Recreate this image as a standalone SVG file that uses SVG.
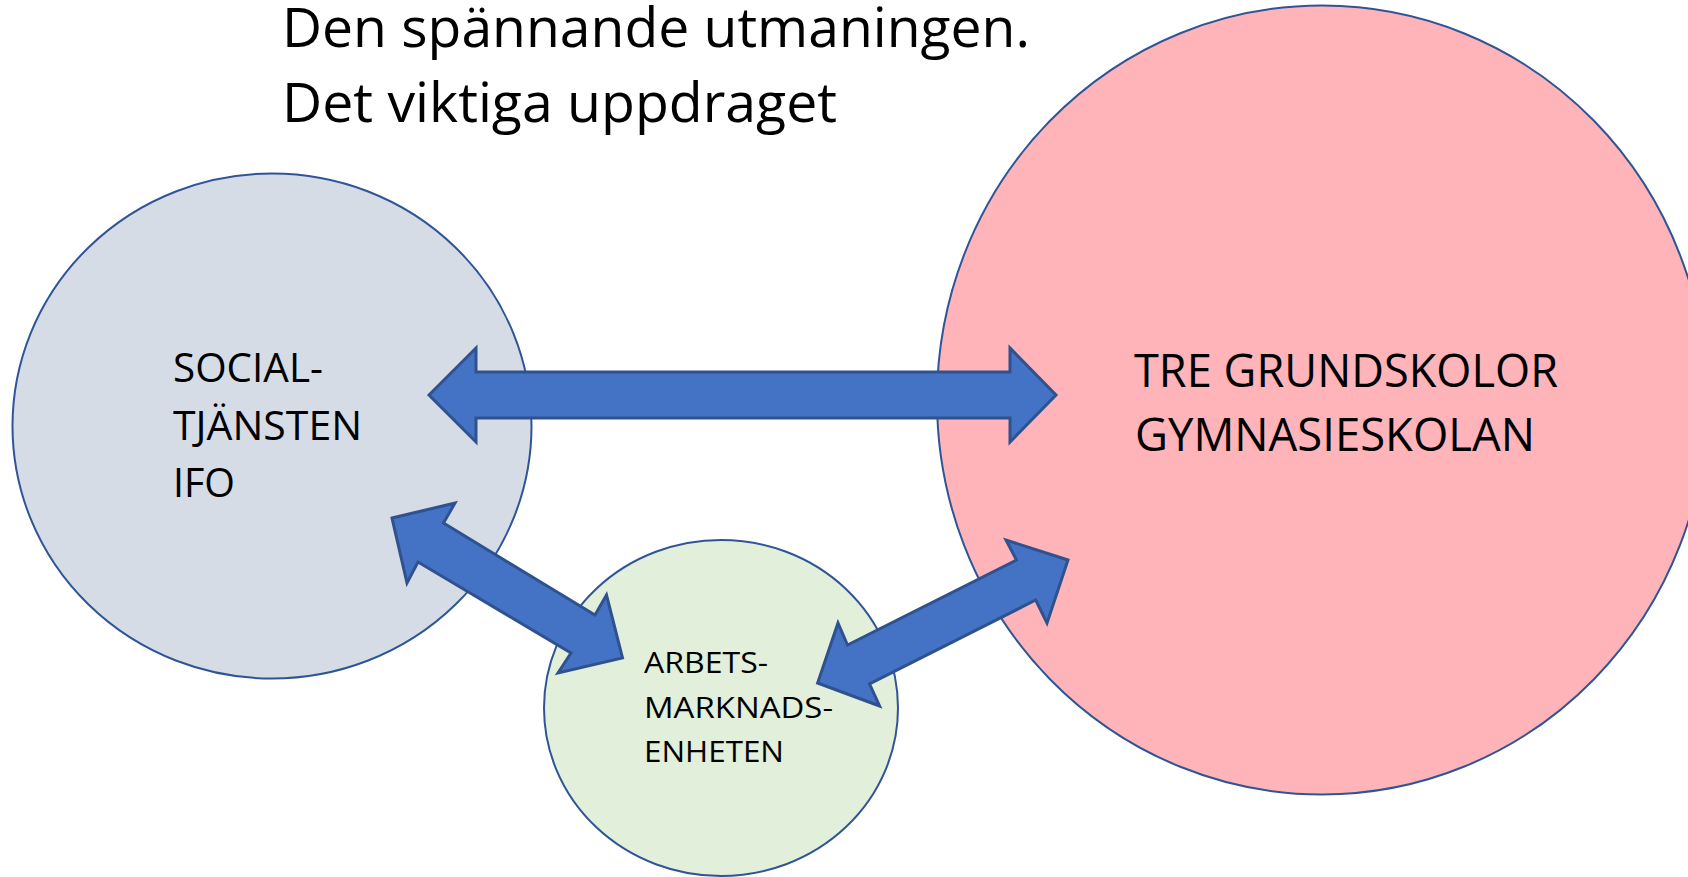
<svg xmlns="http://www.w3.org/2000/svg" width="1688" height="877" viewBox="0 0 1688 877">
<style>
.node{stroke:#2F5597;stroke-width:2}
.arrow{fill:#4472C4;stroke:#2F528F;stroke-width:3;stroke-linejoin:miter}
text{font-family:"Open Sans","Noto Sans",sans-serif;fill:#000}
.title{font-size:55px}
.big{font-size:46.5px}
.mid{font-size:39.5px}
.small{font-size:30px}
</style>
<rect width="1688" height="877" fill="#FFFFFF"/>
<g id="title">
<text class="title"><tspan x="282" y="47" textLength="748" lengthAdjust="spacingAndGlyphs">Den spännande utmaningen.</tspan><tspan x="282" y="122" textLength="555" lengthAdjust="spacingAndGlyphs">Det viktiga uppdraget</tspan></text>
</g>
<g id="socialtjansten">
<ellipse class="node" cx="272" cy="426" rx="259.5" ry="252.5" fill="#D6DCE5"/>
</g>
<g id="skolor">
<ellipse class="node" cx="1322" cy="400" rx="385" ry="394.5" fill="#FFB4B9"/>
</g>
<g id="arbetsmarknad">
<ellipse class="node" cx="721" cy="708" rx="177" ry="168" fill="#E2EFDA"/>
</g>
<g id="connectors">
<polygon class="arrow" points="429,395 476,348 476,372 1010,372 1010,348 1056,395 1010,442 1010,418 476,418 476,442"/>
<polygon class="arrow" points="392,518 455,503 443.5,523 595,615 606.5,595 622.5,658 558,673 571,653 418,562 407,583"/>
<polygon class="arrow" points="1068,560 1006,540 1016.5,560 847.5,645 838,623 817.6,683 879.6,706 869.5,684 1035.7,600 1047,623"/>
</g>
<g id="labels">
<text class="mid"><tspan x="173" y="382" textLength="150" lengthAdjust="spacingAndGlyphs">SOCIAL-</tspan><tspan x="173" y="440" textLength="189" lengthAdjust="spacingAndGlyphs">TJÄNSTEN</tspan><tspan x="173" y="497" textLength="62" lengthAdjust="spacingAndGlyphs">IFO</tspan></text>
<text class="big"><tspan x="1134" y="387" textLength="424" lengthAdjust="spacingAndGlyphs">TRE GRUNDSKOLOR</tspan><tspan x="1135" y="451" textLength="400" lengthAdjust="spacingAndGlyphs">GYMNASIESKOLAN</tspan></text>
<text class="small"><tspan x="644" y="673" textLength="124" lengthAdjust="spacingAndGlyphs">ARBETS-</tspan><tspan x="644" y="718" textLength="189" lengthAdjust="spacingAndGlyphs">MARKNADS-</tspan><tspan x="644" y="762" textLength="140" lengthAdjust="spacingAndGlyphs">ENHETEN</tspan></text>
</g>
</svg>
